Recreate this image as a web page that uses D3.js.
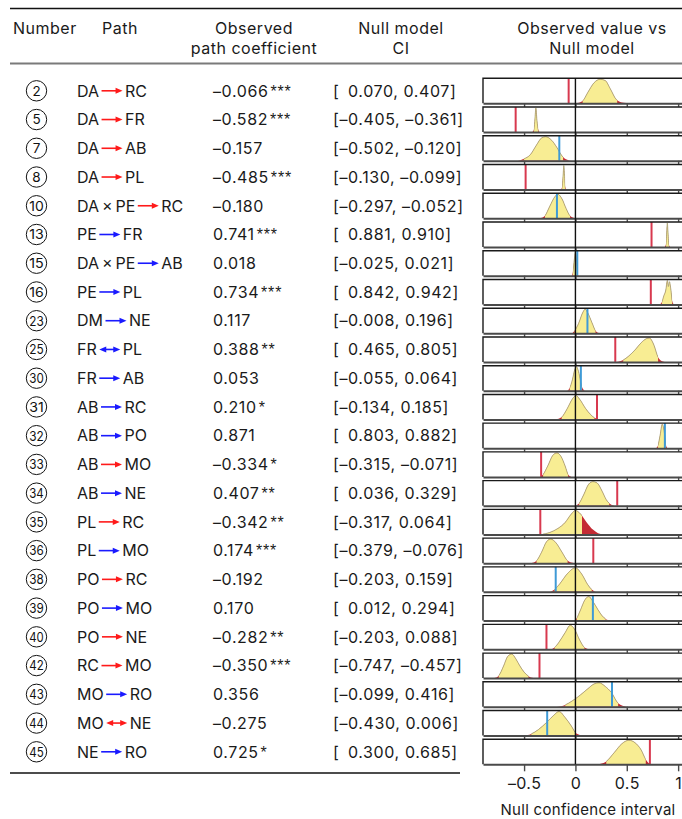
<!DOCTYPE html>
<html>
<head>
<meta charset="utf-8">
<script src="https://cdn.jsdelivr.net/npm/d3@7"></script>
<style>
  html, body { margin: 0; padding: 0; background: #fff; }
  svg { display: block; font-family: Inter, "Noto Sans", sans-serif; }
</style>
</head>
<body>
<svg id="chart" width="682" height="819"></svg>
<script>
// Path numbers, endpoints and direction
const pathNumbers = [2, 5, 7, 8, 10, 13, 15, 16, 23, 25, 30, 31, 32, 33, 34, 35, 36, 38, 39, 40, 42, 43, 44, 45];
const pathSources = ["DA", "DA", "DA", "DA", "DA\u2009×\u2009PE", "PE", "DA\u2009×\u2009PE", "PE", "DM", "FR", "FR", "AB", "AB", "AB", "AB", "PL", "PL", "PO", "PO", "PO", "RC", "MO", "MO", "NE"];
const pathTargets = ["RC", "FR", "AB", "PL", "RC", "FR", "AB", "PL", "NE", "PL", "AB", "RC", "PO", "MO", "NE", "RC", "MO", "RC", "MO", "NE", "MO", "RO", "NE", "RO"];
const twoWay = [false, false, false, false, false, false, false, false, false, true, false, false, false, false, false, false, false, false, false, false, false, false, true, false];

// Observed path coefficients and significance stars
const observed = [-0.066, -0.582, -0.157, -0.485, -0.180, 0.741, 0.018, 0.734, 0.117, 0.388, 0.053, 0.210, 0.871, -0.334, 0.407, -0.342, 0.174, -0.192, 0.170, -0.282, -0.350, 0.356, -0.275, 0.725];
const stars = ["***", "***", "", "***", "", "***", "", "***", "", "**", "", "*", "", "*", "**", "**", "***", "", "", "**", "***", "", "", "*"];

// Null model confidence intervals
const ciLow  = [0.070, -0.405, -0.502, -0.130, -0.297, 0.881, -0.025, 0.842, -0.008, 0.465, -0.055, -0.134, 0.803, -0.315, 0.036, -0.317, -0.379, -0.203, 0.012, -0.203, -0.747, -0.099, -0.430, 0.300];
const ciHigh = [0.407, -0.361, -0.120, -0.099, -0.052, 0.910, 0.021, 0.942, 0.196, 0.805, 0.064, 0.185, 0.882, -0.071, 0.329, 0.064, -0.076, 0.159, 0.294, 0.088, -0.457, 0.416, 0.006, 0.685];

// Null distributions: [value, relative density] pairs
const nullDensity = [
  [[0.0,0],[0.07,0.1],[0.12,0.45],[0.18,0.85],[0.24,1.0],[0.29,0.95],[0.34,0.6],[0.40,0.15],[0.47,0.02],[0.52,0]],
  [[-0.42,0],[-0.405,0.08],[-0.395,0.5],[-0.385,1.0],[-0.375,0.5],[-0.361,0.08],[-0.35,0]],
  [[-0.56,0],[-0.50,0.08],[-0.44,0.25],[-0.38,0.65],[-0.33,0.95],[-0.29,1.0],[-0.23,0.85],[-0.18,0.55],[-0.13,0.2],[-0.08,0.04],[-0.04,0]],
  [[-0.14,0],[-0.13,0.1],[-0.12,0.6],[-0.113,1.0],[-0.106,0.6],[-0.099,0.1],[-0.09,0]],
  [[-0.34,0],[-0.297,0.1],[-0.25,0.5],[-0.20,0.9],[-0.17,1.0],[-0.13,0.8],[-0.09,0.4],[-0.052,0.1],[-0.01,0.01],[0.01,0]],
  [[0.87,0],[0.881,0.1],[0.89,0.7],[0.895,1.0],[0.90,0.7],[0.91,0.1],[0.92,0]],
  [[-0.035,0],[-0.025,0.15],[-0.01,0.7],[0.0,1.0],[0.01,0.7],[0.021,0.1],[0.03,0]],
  [[0.82,0],[0.842,0.1],[0.86,0.35],[0.88,0.6],[0.895,1.0],[0.905,0.75],[0.915,0.95],[0.93,0.6],[0.942,0.15],[0.96,0]],
  [[-0.03,0],[-0.008,0.1],[0.03,0.4],[0.07,0.85],[0.095,1.0],[0.12,0.85],[0.16,0.45],[0.196,0.1],[0.23,0]],
  [[0.40,0],[0.465,0.08],[0.52,0.25],[0.58,0.5],[0.64,0.8],[0.69,0.97],[0.72,1.0],[0.76,0.75],[0.805,0.2],[0.85,0.02],[0.87,0]],
  [[-0.08,0],[-0.055,0.12],[-0.03,0.45],[-0.005,0.9],[0.01,1.0],[0.03,0.8],[0.05,0.4],[0.064,0.15],[0.09,0]],
  [[-0.19,0],[-0.134,0.1],[-0.08,0.45],[-0.03,0.85],[0.005,1.0],[0.04,0.85],[0.10,0.45],[0.185,0.07],[0.23,0]],
  [[0.785,0],[0.803,0.1],[0.825,0.55],[0.845,1.0],[0.86,0.8],[0.872,0.45],[0.882,0.12],[0.895,0]],
  [[-0.34,0],[-0.315,0.1],[-0.27,0.45],[-0.22,0.9],[-0.18,1.0],[-0.14,0.85],[-0.10,0.45],[-0.071,0.1],[-0.04,0]],
  [[0.0,0],[0.036,0.1],[0.08,0.45],[0.13,0.9],[0.17,1.0],[0.21,0.95],[0.26,0.6],[0.30,0.25],[0.329,0.1],[0.38,0]],
  [[-0.33,0],[-0.25,0.08],[-0.17,0.25],[-0.10,0.5],[-0.04,0.85],[0.0,1.0],[0.05,0.85],[0.11,0.5],[0.17,0.2],[0.22,0.05],[0.27,0]],
  [[-0.43,0],[-0.379,0.1],[-0.33,0.45],[-0.28,0.9],[-0.24,1.0],[-0.19,0.85],[-0.13,0.45],[-0.076,0.1],[-0.01,0]],
  [[-0.25,0],[-0.203,0.1],[-0.15,0.35],[-0.08,0.75],[0.0,1.0],[0.06,0.75],[0.12,0.3],[0.159,0.1],[0.2,0]],
  [[-0.01,0],[0.012,0.1],[0.05,0.45],[0.09,0.85],[0.13,1.0],[0.17,0.8],[0.22,0.45],[0.26,0.2],[0.294,0.07],[0.34,0]],
  [[-0.24,0],[-0.203,0.08],[-0.16,0.3],[-0.10,0.7],[-0.05,1.0],[-0.01,0.85],[0.04,0.4],[0.088,0.08],[0.14,0]],
  [[-0.79,0],[-0.747,0.1],[-0.70,0.5],[-0.66,0.9],[-0.62,1.0],[-0.58,0.8],[-0.54,0.5],[-0.50,0.25],[-0.457,0.08],[-0.41,0]],
  [[-0.18,0],[-0.099,0.08],[-0.03,0.25],[0.05,0.5],[0.12,0.75],[0.18,0.95],[0.23,1.0],[0.29,0.85],[0.35,0.6],[0.416,0.15],[0.5,0]],
  [[-0.5,0],[-0.43,0.07],[-0.36,0.25],[-0.28,0.55],[-0.21,0.85],[-0.16,1.0],[-0.10,0.75],[-0.04,0.4],[0.006,0.1],[0.08,0]],
  [[0.22,0],[0.30,0.12],[0.38,0.5],[0.45,0.85],[0.52,1.0],[0.58,0.9],[0.64,0.6],[0.685,0.2],[0.72,0.02],[0.73,0]]
];

const axisTicks = [-0.5, 0, 0.5, 1];
const axisTickLabels = ["\u20130.5", "0", "0.5", "1"];

const fmt = v => (v < 0 ? "\u2013" : "") + Math.abs(v).toFixed(3);
const fmtCI = v => (v < 0 ? "\u2013" : "\u2002") + Math.abs(v).toFixed(3);

const svg = d3.select("#chart");
const n = pathNumbers.length;

const rowBand = d3.scaleBand().domain(d3.range(n)).range([78.3, 764.3]).paddingInner(0.13).paddingOuter(0);
const panelH = rowBand.bandwidth();
const x = d3.scaleLinear().domain([-0.9, 1.05]).range([483, 483 + 1.95 * 102.7]);

const colors = {
  neg: "#ff1a1a", pos: "#1a1aff",
  obsOut: "#d8394f", obsIn: "#3f9ad6",
  fill: "#f8ed93", tail: "#c42a33", outline: "#aca679"
};
const ink = "#1a1a1a";

// Header rules and titles
svg.append("line").attr("x1", 10).attr("x2", 682).attr("y1", 8.5).attr("y2", 8.5)
  .attr("stroke", "#111").attr("stroke-width", 1.4);
svg.append("line").attr("x1", 10).attr("x2", 682).attr("y1", 63.5).attr("y2", 63.5)
  .attr("stroke", "#7a7a7a").attr("stroke-width", 2);
svg.append("line").attr("x1", 10).attr("x2", 460).attr("y1", 773).attr("y2", 773)
  .attr("stroke", "#111").attr("stroke-width", 1.4);

const headers = [
  { x: 13, anchor: "start", lines: ["Number"] },
  { x: 120, anchor: "middle", lines: ["Path"] },
  { x: 254, anchor: "middle", lines: ["Observed", "path coefficient"] },
  { x: 401, anchor: "middle", lines: ["Null model", "CI"] },
  { x: 592, anchor: "middle", lines: ["Observed value vs", "Null model"] }
];
headers.forEach(h => {
  h.lines.forEach((t, k) => {
    svg.append("text").attr("x", h.x).attr("y", 33.5 + k * 20)
      .attr("text-anchor", h.anchor).attr("font-size", 16).attr("letter-spacing", 0.5)
      .attr("fill", ink).text(t);
  });
});

// Table rows
const rows = svg.append("g");
for (let i = 0; i < n; i++) {
  const top = rowBand(i);
  const cy = top + panelH / 2;
  const g = rows.append("g");

  g.append("circle").attr("cx", 36.5).attr("cy", cy).attr("r", 10.2)
    .attr("fill", "none").attr("stroke", "#111").attr("stroke-width", 1);
  const num = g.append("text").attr("x", 36.5).attr("y", cy).attr("dy", "0.36em")
    .attr("text-anchor", "middle").attr("font-size", 13.5).attr("fill", "#111")
    .text(pathNumbers[i]);
  if (pathNumbers[i] >= 10) num.attr("textLength", 14.5).attr("lengthAdjust", "spacingAndGlyphs");

  const src = g.append("text").attr("x", 77).attr("y", cy).attr("dy", "0.36em")
    .attr("font-size", 16).attr("fill", ink).text(pathSources[i]);
  const sEnd = 77 + src.node().getComputedTextLength();
  const a0 = sEnd + 2.5, a1 = a0 + 21;
  const col = observed[i] < 0 ? colors.neg : colors.pos;
  const hl = 7, hw = 3;
  g.append("line").attr("x1", twoWay[i] ? a0 + hl - 1 : a0).attr("x2", a1 - hl + 1)
    .attr("y1", cy).attr("y2", cy).attr("stroke", col).attr("stroke-width", 1.6);
  g.append("path").attr("d", `M${a1},${cy}L${a1 - hl},${cy - hw}L${a1 - hl},${cy + hw}Z`).attr("fill", col);
  if (twoWay[i]) g.append("path").attr("d", `M${a0},${cy}L${a0 + hl},${cy - hw}L${a0 + hl},${cy + hw}Z`).attr("fill", col);
  g.append("text").attr("x", a1 + 2.5).attr("y", cy).attr("dy", "0.36em")
    .attr("font-size", 16).attr("fill", ink).text(pathTargets[i]);

  const val = g.append("text").attr("x", 213).attr("y", cy).attr("dy", "0.36em")
    .attr("font-size", 16).attr("fill", ink);
  val.append("tspan").attr("letter-spacing", 0.6).text(fmt(observed[i]));
  if (stars[i]) val.append("tspan").attr("dx", 2).attr("font-family", "'Liberation Sans', sans-serif")
    .attr("font-size", 16).attr("letter-spacing", 0.8).text(stars[i]);

  g.append("text").attr("x", 333).attr("y", cy).attr("dy", "0.36em")
    .attr("font-size", 16).attr("letter-spacing", 0.6).attr("fill", ink)
    .text(`[${fmtCI(ciLow[i])}, ${fmtCI(ciHigh[i]).replace("\u2002", "")}]`);
}

// Null distribution panels
const defs = svg.append("defs");
const panels = svg.append("g");
for (let i = 0; i < n; i++) {
  const top = rowBand(i), bottom = top + panelH;
  const g = panels.append("g");
  g.append("rect").attr("x", x.range()[0]).attr("y", top)
    .attr("width", x.range()[1] - x.range()[0]).attr("height", panelH).attr("fill", "#fff");

  const yDen = d3.scaleLinear().domain([0, 1]).range([bottom, top + 1]);
  const area = d3.area().x(d => x(d[0])).y0(bottom).y1(d => yDen(d[1])).curve(d3.curveMonotoneX);
  const line = d3.line().x(d => x(d[0])).y(d => yDen(d[1])).curve(d3.curveMonotoneX);

  defs.append("clipPath").attr("id", "ci" + i).append("rect")
    .attr("x", x(ciLow[i])).attr("y", top).attr("width", x(ciHigh[i]) - x(ciLow[i])).attr("height", panelH);

  g.append("path").attr("d", area(nullDensity[i])).attr("fill", colors.tail);
  g.append("path").attr("d", area(nullDensity[i])).attr("fill", colors.fill).attr("clip-path", `url(#ci${i})`);
  g.append("path").attr("d", line(nullDensity[i])).attr("fill", "none")
    .attr("stroke", colors.outline).attr("stroke-width", 0.9).attr("clip-path", `url(#ci${i})`);

  const outside = observed[i] < ciLow[i] || observed[i] > ciHigh[i];
  g.append("line").attr("x1", x(observed[i])).attr("x2", x(observed[i]))
    .attr("y1", top).attr("y2", bottom)
    .attr("stroke", outside ? colors.obsOut : colors.obsIn).attr("stroke-width", 2);

  g.append("path").attr("d", `M${x.range()[1]},${top}H${x.range()[0]}V${bottom}`)
    .attr("fill", "none").attr("stroke", ink).attr("stroke-width", 1.4);

  const last = i === n - 1;
  const axis = d3.axisBottom(x).tickValues(axisTicks).tickSizeInner(last ? 7 : 3.5).tickSizeOuter(0)
    .tickFormat((d, k) => last ? axisTickLabels[k] : "");
  const ag = g.append("g").attr("transform", `translate(0,${bottom})`).call(axis);
  ag.select(".domain").attr("stroke", "#4a4a4a").attr("stroke-width", 2);
  ag.selectAll(".tick line").attr("stroke", "#4a4a4a").attr("stroke-width", 1.4);
  ag.selectAll(".tick text").attr("font-family", "Inter, sans-serif").attr("font-size", 16)
    .attr("letter-spacing", 0.4).attr("fill", ink).attr("dy", "0.95em");
}

// Zero reference line across all panels
svg.append("line").attr("x1", x(0)).attr("x2", x(0))
  .attr("y1", rowBand(0)).attr("y2", rowBand(n - 1) + panelH)
  .attr("stroke", "#111").attr("stroke-width", 1.4);

svg.append("text").attr("x", 588).attr("y", 815).attr("text-anchor", "middle")
  .attr("font-size", 15).attr("letter-spacing", 0.3).attr("fill", ink).text("Null confidence interval");
</script>
</body>
</html>
